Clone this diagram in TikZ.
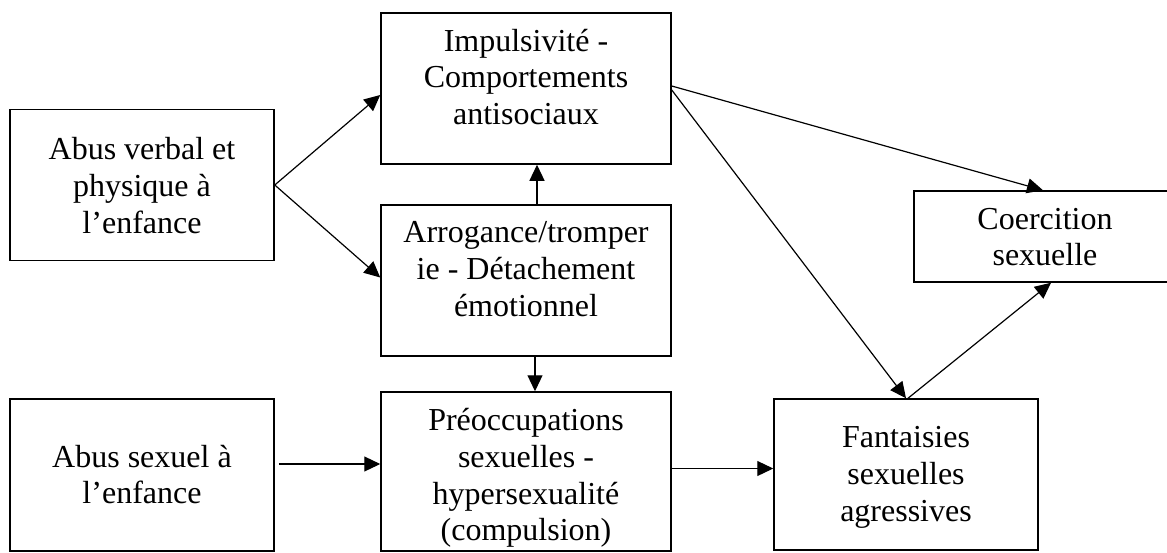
\documentclass[tikz,border=0pt]{standalone}
\usepackage{fontspec}
\setmainfont{Liberation Serif}
\usetikzlibrary{arrows.meta}
\tikzset{
  box/.style={draw, line width=1.5pt, minimum width=264pt, minimum height=151pt, inner sep=0pt},
  widebox/.style={box, minimum width=290pt},
  txt/.style={align=center, inner sep=0pt, font=\fontsize{32}{36.8}\selectfont},
  link/.style={-{Triangle[length=16pt, width=15pt]}, line width=1.2pt}
}

\begin{document}
\begin{tikzpicture}[x=1pt, y=-1pt]
  \useasboundingbox (0,0) rectangle (1167,552);
  \clip (0,0) rectangle (1167,552);
  % boxes
  \node[box] (verb) at (142,185) {};
  \node[widebox] (imp) at (526,88.5) {};
  \node[widebox] (arr) at (526,280.5) {};
  \node[widebox, minimum height=159pt] (preo) at (526,471.5) {};
  \node[box, minimum height=152pt] (sex) at (142,475) {};
  \node[box] (fan) at (906,474.5) {};
  \node[box, minimum height=91pt] (coer) at (1046,236.5) {};
  % texts
  \node[txt] (verbT) at (142,185.5) {Abus verbal et\\physique à\\l’enfance};
  \node[txt] (impT) at (526,77) {Impulsivité -\\Comportements\\antisociaux};
  \node[txt] (arrT) at (526,269) {Arrogance/tromper\\ie - Détachement\\émotionnel};
  \node[txt] (preoT) at (526,478) {Préoccupations\\sexuelles -\\hypersexualité\\(compulsion)};
  \node[txt] (sexT) at (142,474.5) {Abus sexuel à\\l’enfance};
  \node[txt] (fanT) at (906,477.5) {Fantaisies\\sexuelles\\agressives};
  \node[txt] (coerT) at (1045,237) {Coercition\\sexuelle};
  % links
  \draw[link] (verb.east) -- ([yshift=-6.5pt]imp.west);
  \draw[link] (verb.east) -- ([yshift=3pt]arr.west);
  \draw[link] ([xshift=11pt]arr.north) -- ([xshift=11pt]imp.south);
  \draw[link] ([xshift=9pt]arr.south) -- ([xshift=9pt]preo.north);
  \draw[link, shorten <=4pt] ([yshift=11pt]sex.east) -- ([yshift=11pt]sex.east -| preo.west);
  \draw[link] ([yshift=3pt]preo.east) -- ([yshift=3pt]preo.east -| fan.west);
  \draw[link] ([yshift=2.5pt]imp.east) -- ([xshift=-3pt]coer.north);
  \draw[link] ([yshift=-1.5pt]imp.east) -- (fan.north);
  \draw[link] ([xshift=2pt]fan.north) -- ([xshift=5pt]coer.south);
\end{tikzpicture}
\end{document}
